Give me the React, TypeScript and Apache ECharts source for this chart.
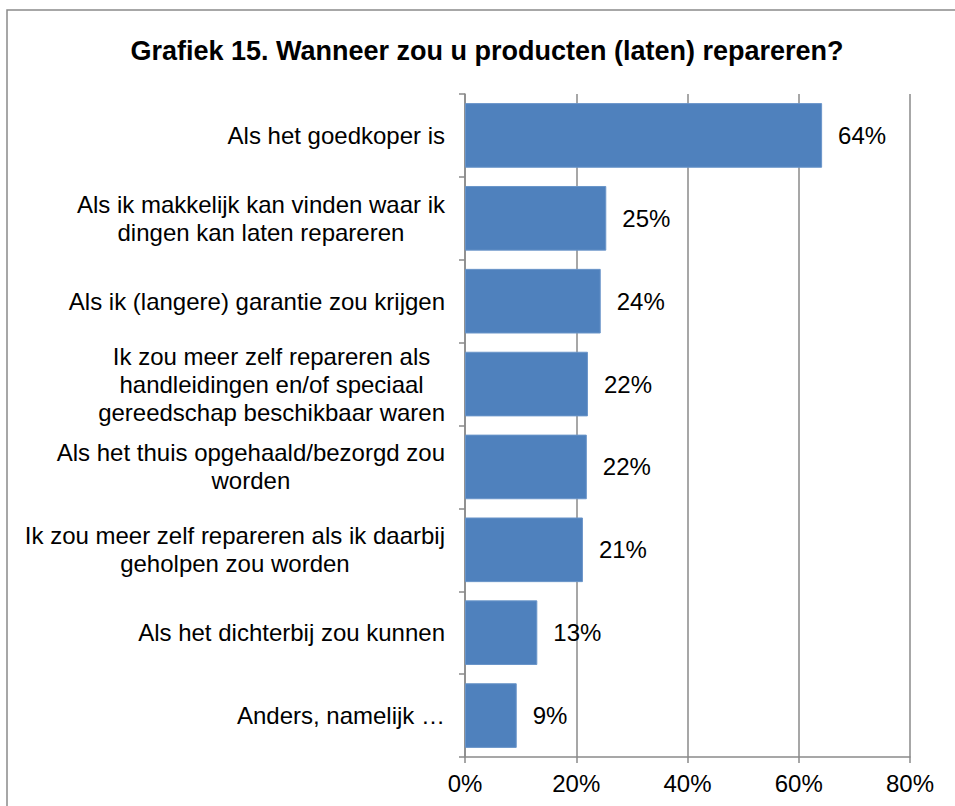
import React, { useEffect, useRef } from "react";
import * as echarts from "echarts";

const TITLE = "Grafiek 15. Wanneer zou u producten (laten) repareren?";
const categories = [
  "Als het goedkoper is",
  "Als ik makkelijk kan vinden waar ik\ndingen kan laten repareren",
  "Als ik (langere) garantie zou krijgen",
  "Ik zou meer zelf repareren als\nhandleidingen en/of speciaal\ngereedschap beschikbaar waren",
  "Als het thuis opgehaald/bezorgd zou\nworden",
  "Ik zou meer zelf repareren als ik daarbij\ngeholpen zou worden",
  "Als het dichterbij zou kunnen",
  "Anders, namelijk …",
];
const values = [64.2, 25.4, 24.4, 22.1, 21.9, 21.2, 13.0, 9.3];
const xTicks = [0, 20, 40, 60, 80];

const FONT = "'Liberation Sans', Arial, Helvetica, sans-serif";
const GRAY = "#8a8a8a";

export default function App() {
  const ref = useRef<HTMLDivElement>(null);
  useEffect(() => {
    if (!ref.current) return;
    const chart = echarts.init(ref.current, null, { renderer: "svg" });
    chart.setOption({
      animation: false,
      backgroundColor: "#ffffff",
      textStyle: { fontFamily: FONT },
      title: {
        text: TITLE,
        left: 482,
        textAlign: "center",
        top: 32,
        textStyle: { fontFamily: FONT, fontSize: 27, fontWeight: "bold", color: "#000" },
      },
      graphic: [
        {
          type: "rect",
          shape: { x: 7, y: 10, width: 1200, height: 1200 },
          style: { fill: "none", stroke: GRAY, lineWidth: 1.5 },
          silent: true,
        },
      ],
      grid: { left: 465, right: 45, top: 94, bottom: 49, containLabel: false },
      xAxis: {
        type: "value",
        min: xTicks[0],
        max: xTicks[xTicks.length - 1],
        interval: 20,
        axisLine: { show: true, lineStyle: { color: GRAY, width: 1.5 } },
        axisTick: { show: true, length: 6, lineStyle: { color: GRAY, width: 1.5 } },
        splitLine: { show: true, lineStyle: { color: GRAY, width: 1.5 } },
        axisLabel: {
          formatter: "{value}%",
          fontSize: 24,
          color: "#000",
          fontFamily: FONT,
          margin: 14,
        },
      },
      yAxis: {
        type: "category",
        inverse: true,
        data: categories,
        axisLine: { show: true, lineStyle: { color: GRAY, width: 1.5 } },
        axisTick: { show: true, length: 6, lineStyle: { color: GRAY, width: 1.5 } },
        axisLabel: {
          margin: 20,
          formatter: (v: string) =>
            v
              .split("\n")
              .map((l) => `{c|${l}}`)
              .join("\n"),
          rich: {
            c: {
              align: "center",
              fontSize: 24,
              lineHeight: 28,
              color: "#000",
              fontFamily: FONT,
            },
          },
        },
      },
      series: [
        {
          type: "bar",
          data: values,
          barCategoryGap: "22%",
          itemStyle: { color: "#4f81bd", borderColor: "#6a95c9", borderWidth: 1 },
          label: {
            show: true,
            position: "right",
            distance: 16,
            formatter: (p: any) => `${Math.round(p.value)}%`,
            fontSize: 24,
            color: "#000",
            fontFamily: FONT,
          },
        },
      ],
    });
    return () => chart.dispose();
  }, []);
  return (
    <div
      ref={ref}
      style={{ position: "fixed", left: 0, top: 0, width: 955, height: 806, background: "#fff" }}
    />
  );
}
